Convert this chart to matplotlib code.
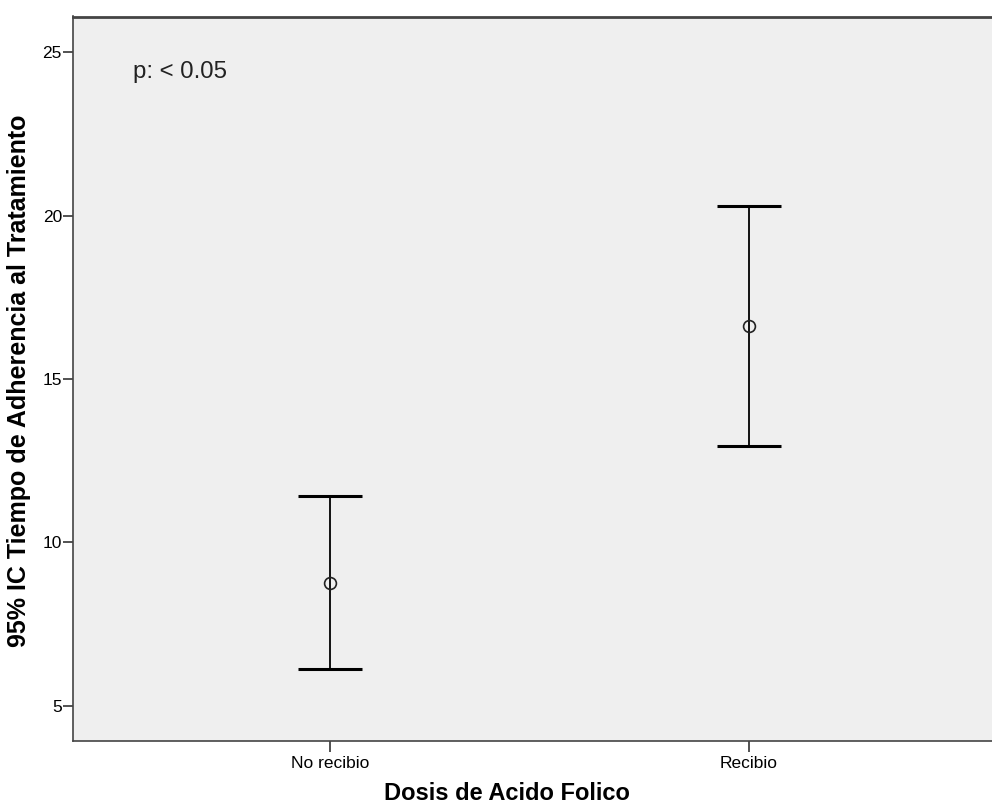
import numpy as np
import matplotlib
matplotlib.use("Agg")
import matplotlib.pyplot as plt

plt.rcParams['font.family'] = ['Liberation Sans', 'DejaVu Sans']

# data
groups = ["No recibio", "Recibio"]
means = [8.76, 16.62]
lower = [6.13, 12.94]
upper = [11.43, 20.30]

x = np.arange(len(groups))
means = np.array(means)
err = np.vstack([means - np.array(lower), np.array(upper) - means])

fig = plt.figure(figsize=(9.92, 8.07), dpi=100)
ax = fig.add_axes([73/992, 1 - 741/807, 1 - 73/992, (741 - 16.5)/807])
ax.set_facecolor("#efefef")

ax.errorbar(x, means, yerr=err, fmt="none", ecolor="black",
            elinewidth=1.3, capsize=23, capthick=2.2)
ax.plot(x, means, "o", mfc="none", mec="#222222", mew=1.2, ms=8.5, ls="none")

ax.set_xlim(-0.613, 1.58)
ax.set_ylim(3.92, 26.1)
ax.set_xticks(x)
ax.set_xticklabels(groups, fontsize=12.5)
ax.set_yticks([5, 10, 15, 20, 25])
ax.tick_params(axis="y", labelsize=12.5, length=7, width=1.2, color="#333333", pad=1)
ax.tick_params(axis="x", length=8, width=1.2, color="#333333", pad=3)

for s in ["left", "bottom", "top"]:
    ax.spines[s].set_color("#444444")
    ax.spines[s].set_linewidth(1.2)
ax.spines["top"].set_linewidth(2)
ax.spines["right"].set_visible(False)

ax.set_xlabel("Dosis de Acido Folico", fontsize=17, fontweight="bold")
ax.xaxis.set_label_coords((507 - 73) / (992 - 73), -(794 - 741) / (741 - 16.5))
ax.xaxis.label.set_va("center")
ax.set_ylabel("95% IC Tiempo de Adherencia al Tratamiento", fontsize=18,
              fontweight="bold")
ax.yaxis.set_label_coords(-(73 - 19) / (992 - 73), (741 - 381) / (741 - 16.5))
ax.yaxis.label.set_va("center")

ax.text(-0.47, 25.0 - 0.6, "p: < 0.05", fontsize=17.3, color="#222222", va="center")

fig.savefig("out.png", dpi=100)
